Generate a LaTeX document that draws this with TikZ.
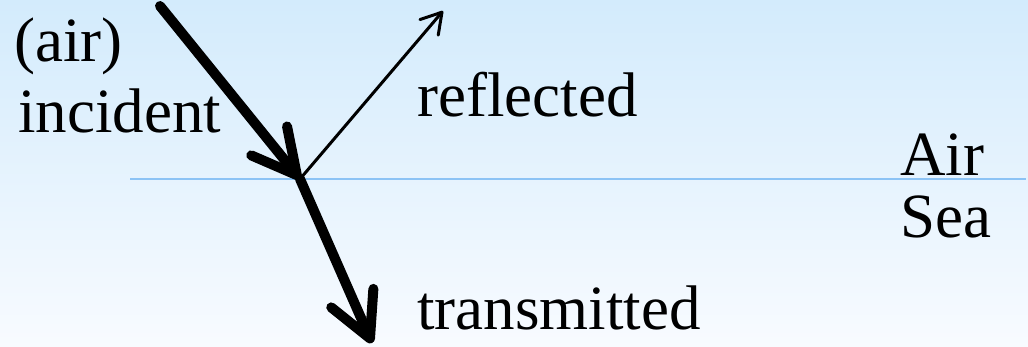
\documentclass[tikz,border=0pt]{standalone}
\usepackage{fontspec}
\setmainfont{Liberation Serif}
\usetikzlibrary{arrows.meta}
\definecolor{skytop}{RGB}{211,235,252}
\definecolor{skybottom}{RGB}{248,251,255}
\definecolor{surface}{RGB}{140,195,245}
\tikzset{
  lbl/.style={anchor=base west, inner sep=0pt, font=\fontsize{63}{70}\selectfont},
  thickray/.style={line width=10pt, line cap=round,
    -{Straight Barb[length=44pt, width=46pt, round]}},
  thinray/.style={line width=3pt, line cap=round,
    -{Straight Barb[length=20pt, width=24pt, round]}},
}
\begin{document}
\begin{tikzpicture}[x=1pt, y=-1pt]
  \useasboundingbox (0,0) rectangle (1028,347);
  \shade[top color=skytop, bottom color=skybottom] (0,0) rectangle (1028,347);
  % sea surface
  \coordinate (surfL) at (130,179);
  \coordinate (surfR) at (1026,179);
  \draw[surface, line width=2pt] (surfL) -- (surfR);
  % ray points
  \coordinate (src) at (160,6);
  \coordinate (hit) at (300,179);
  \coordinate (up) at (443,11);
  \coordinate (down) at (372,343);
  \draw[thickray] (src) -- (hit);
  \draw[thinray] (hit) -- (up);
  \draw[thickray] (hit) -- (down);
  % labels
  \node[lbl] (airtag) at (14,62) {(air)};
  \node[lbl] (inc) at (18,133) {incident};
  \node[lbl] (refl) at (417,117) {reflected};
  \node[lbl] (trans) at (417,330) {transmitted};
  \node[lbl] (air) at (900,176) {Air};
  \node[lbl] (sea) at (900,238) {Sea};
\end{tikzpicture}
\end{document}
